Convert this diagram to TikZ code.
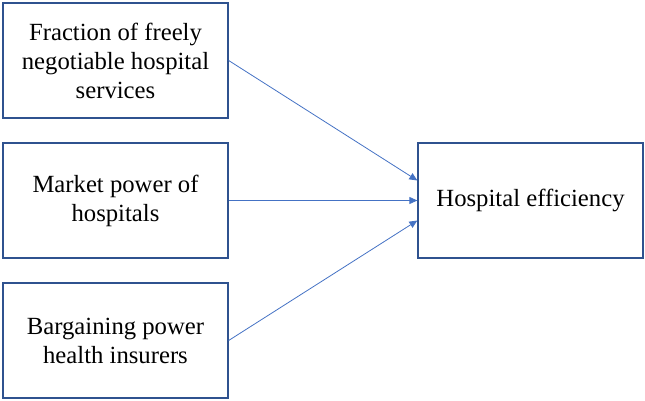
\documentclass[tikz,border=0pt]{standalone}
\usepackage{fontspec}
\setmainfont{Liberation Serif}
\usetikzlibrary{arrows.meta}
\definecolor{boxblue}{HTML}{2F528F}
\definecolor{linkblue}{HTML}{4472C4}
\begin{document}
\begin{tikzpicture}[x=1pt,y=-1pt,
  box/.style={draw=boxblue, line width=1.3pt, minimum width=225pt, minimum height=115pt, align=center, inner sep=0pt, font=\fontsize{24.7}{29}\selectfont},
  link/.style={draw=linkblue, line width=0.8pt, -{Triangle[length=8pt,width=7pt]}}]
\useasboundingbox (0,0) rectangle (645,401);
\node[box] (a) at (115.5,60.5) {Fraction of freely\\negotiable hospital\\services};
\node[box] (b) at (115.5,200.5) {Market power of\\hospitals};
\node[box] (c) at (115.5,340.5) {Bargaining power\\health insurers};
\node[box] (h) at (530.5,200.5) {Hospital efficiency};
\draw[link] (a.east) -- ([yshift=20pt]h.west);
\draw[link] (b.east) -- (h.west);
\draw[link] (c.east) -- ([yshift=-20pt]h.west);
\end{tikzpicture}
\end{document}
